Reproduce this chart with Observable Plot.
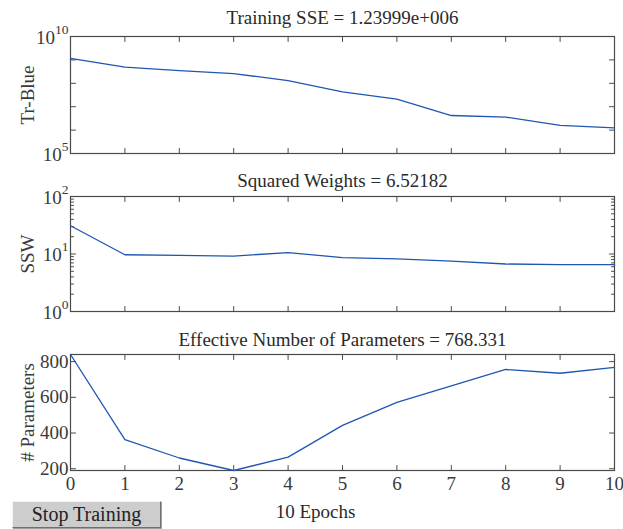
<!DOCTYPE html>
<html>
<head>
<meta charset="utf-8">
<script src="https://cdn.jsdelivr.net/npm/d3@7"></script>
<script src="https://cdn.jsdelivr.net/npm/@observablehq/plot@0.6"></script>
<style>
  body { margin: 0; background: #fff; }
  #chart { position: relative; width: 623px; height: 529px; overflow: hidden; font-family: "Liberation Serif", serif; }
  #chart svg { display: block; overflow: visible; }
  #btn {
    position: absolute; left: 12px; top: 501px; width: 147px; height: 25px;
    background: #cdcdcd; border: 1px solid; border-color: #f4f4f4 #707070 #707070 #f4f4f4;
    font: 20px "Liberation Serif", serif; color: #222; text-align: center; line-height: 25px;
    box-shadow: 1px 1px 0 #a0a0a0;
  }
</style>
</head>
<body>
<div id="chart"></div>
<script>
// ---- data ----
const epochs = [0, 1, 2, 3, 4, 5, 6, 7, 8, 9, 10];
const trainingSSE = [1.15e9, 4.9e8, 3.5e8, 2.6e8, 1.3e8, 4.3e7, 2.1e7, 4.2e6, 3.6e6, 1.6e6, 1.23999e6];
const squaredWeights = [31, 9.7, 9.5, 9.2, 10.6, 8.65, 8.2, 7.5, 6.7, 6.55, 6.52182];
const effectiveParams = [840, 363, 260, 190, 265, 443, 572, 664, 756, 735, 768.331];
const titles = ["Training SSE = 1.23999e+006", "Squared Weights = 6.52182", "Effective Number of Parameters = 768.331"];
const yLabels = ["Tr-Blue", "SSW", "# Parameters"];
const xLabel = "10 Epochs";
const buttonLabel = "Stop Training";
const sseTicks = [1e5, 1e6, 1e7, 1e8, 1e9, 1e10];
const sseTickLabels = [1e5, 1e10];
const sswTicks = [1, 10, 100];
const sswMinorTicks = [2, 3, 4, 5, 6, 7, 8, 9, 20, 30, 40, 50, 60, 70, 80, 90];
const paramTicks = [200, 400, 600, 800];

// ---- style ----
const lineColor = "#1f56b2";
const axisColor = "#4a4a4a";
const textColor = "#2a2a2a";
const labelColor = "#3a3a3a";

const tickShape = { draw(context, l) { context.moveTo(0, 0); context.lineTo(0, -l); } };
const xMin = epochs[0], xMax = epochs[epochs.length - 1];

function inwardTicks(xTicks, yTicks, yDomain, len, withX) {
  const marks = [];
  const o = {length: len, anchor: "start", shape: tickShape, stroke: axisColor, strokeWidth: 1};
  if (withX) {
    marks.push(Plot.vector(xTicks, {...o, x: d => d, y: () => yDomain[0], rotate: 0}));
    marks.push(Plot.vector(xTicks, {...o, x: d => d, y: () => yDomain[1], rotate: 180}));
  }
  marks.push(Plot.vector(yTicks, {...o, x: () => xMin, y: d => d, rotate: 90}));
  marks.push(Plot.vector(yTicks, {...o, x: () => xMax, y: d => d, rotate: 270}));
  return marks;
}

// power-of-ten tick labels: base "10" plus a raised exponent
function powerLabels(ticks) {
  const marks = [];
  for (const t of ticks) {
    const e = String(Math.round(Math.log10(t)));
    const ew = e.length * 6.8;
    marks.push(Plot.text([t], {x: () => xMin, y: d => d, text: () => e, textAnchor: "end", dx: -2, dy: -7, fontSize: 13.5, fill: labelColor}));
    marks.push(Plot.text([t], {x: () => xMin, y: d => d, text: () => "10", textAnchor: "end", dx: -2 - ew, dy: 1, fontSize: 19, fill: labelColor}));
  }
  return marks;
}

function panel({values, yType, yDomain, majors, minors, labelTicks, power, title, titleDy, ylabel, height, marginTop, marginBottom, bottom}) {
  const data = epochs.map((e, i) => ({epoch: e, value: values[i]}));
  const marks = [
    Plot.frame({stroke: axisColor, strokeWidth: 1.2}),
    ...inwardTicks(epochs, majors, yDomain, 5, true),
    ...(minors ? inwardTicks([], minors, yDomain, 3, false) : []),
    Plot.line(data, {x: "epoch", y: "value", stroke: lineColor, strokeWidth: 1.3}),
    ...(power
      ? powerLabels(labelTicks)
      : [Plot.axisY(labelTicks, {anchor: "left", tickSize: 0, tickPadding: 2, tickFormat: d3.format("d"), label: null, fill: labelColor, fontSize: 19})]),
    Plot.text([title], {frameAnchor: "top", lineAnchor: "middle", dy: titleDy, text: d => d, fontSize: 19, fill: textColor}),
    Plot.text([ylabel], {frameAnchor: "left", textAnchor: "middle", lineAnchor: "middle", dx: -43, rotate: -90, text: d => d, fontSize: 19, fill: labelColor})
  ];
  if (bottom) {
    marks.push(Plot.axisX(epochs, {anchor: "bottom", tickSize: 0, tickPadding: 6, label: null, fill: labelColor, fontSize: 19}));
    marks.push(Plot.text([xLabel], {frameAnchor: "bottom", lineAnchor: "middle", dy: 41, dx: -27, text: d => d, fontSize: 19, fill: textColor}));
  }
  return Plot.plot({
    width: 623,
    height,
    marginLeft: 70,
    marginRight: 9,
    marginTop,
    marginBottom,
    style: {fontFamily: "'Liberation Serif', serif", fontSize: "19px", color: axisColor, background: "transparent", overflow: "visible"},
    x: {domain: [xMin, xMax], axis: null},
    y: {type: yType, domain: yDomain, axis: null},
    marks
  });
}

const root = document.getElementById("chart");
root.append(panel({
  values: trainingSSE, yType: "log", yDomain: [1e5, 1e10], majors: sseTicks, labelTicks: sseTickLabels, power: true,
  title: titles[0], titleDy: -19, ylabel: yLabels[0], height: 170, marginTop: 36, marginBottom: 17
}));
root.append(panel({
  values: squaredWeights, yType: "log", yDomain: [1, 100], majors: sswTicks, minors: sswMinorTicks, labelTicks: sswTicks, power: true,
  title: titles[1], titleDy: -16, ylabel: yLabels[1], height: 159, marginTop: 26, marginBottom: 18
}));
root.append(panel({
  values: effectiveParams, yType: "linear", yDomain: [d3.min(effectiveParams), d3.max(effectiveParams)], majors: paramTicks, labelTicks: paramTicks, power: false,
  title: titles[2], titleDy: -15, ylabel: yLabels[2], height: 200, marginTop: 25, marginBottom: 59, bottom: true
}));
const btn = document.createElement("div");
btn.id = "btn";
btn.textContent = buttonLabel;
root.append(btn);
</script>
</body>
</html>
